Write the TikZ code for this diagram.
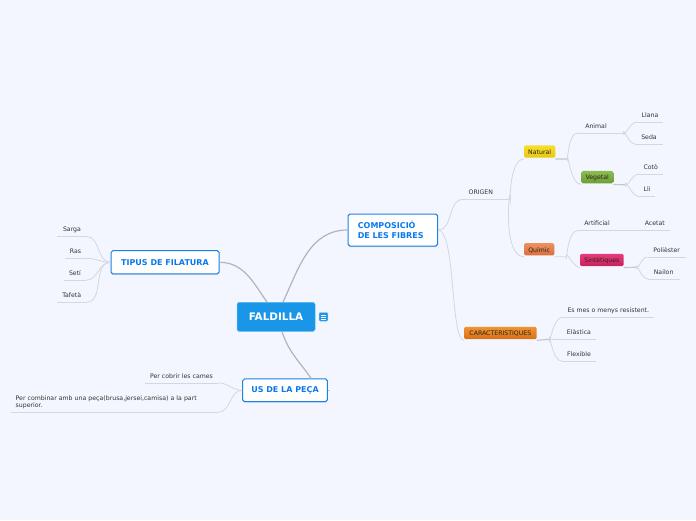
\documentclass[tikz,border=0pt]{standalone}
\usepackage{fontspec}
\usepackage{xcolor}
\setmainfont{DejaVu Sans}
\usetikzlibrary{shadows}
\definecolor{FLBack}{HTML}{F3F6FE}
\definecolor{FLBlue}{HTML}{1A96E8}
\definecolor{FLEdge}{HTML}{1C80E8}
\definecolor{FLTitle}{HTML}{0A78EE}
\definecolor{FLMain}{HTML}{B4B4B8}
\definecolor{FLTwig}{HTML}{D3D7E0}
\definecolor{FLStem}{HTML}{C4C6CC}
\definecolor{FLText}{HTML}{333333}
\definecolor{FLPill}{HTML}{2A2418}
\definecolor{FLGoldA}{HTML}{F8DE30}
\definecolor{FLGoldB}{HTML}{E8C810}
\definecolor{FLRustA}{HTML}{EE9060}
\definecolor{FLRustB}{HTML}{D86E3C}
\definecolor{FLLeafA}{HTML}{8CBC50}
\definecolor{FLLeafB}{HTML}{6C9E38}
\definecolor{FLRoseA}{HTML}{E63C7C}
\definecolor{FLRoseB}{HTML}{C8205C}
\definecolor{FLAmberA}{HTML}{F09430}
\definecolor{FLAmberB}{HTML}{D87018}
\tikzset{
  topic/.style={draw=FLEdge,line width=1pt,fill=white,rounded corners=1.8pt,inner sep=0pt,
    text=FLTitle,font=\fontsize{8}{10}\selectfont\bfseries,drop shadow={shadow xshift=0pt,shadow yshift=-1pt,opacity=.3}},
  pill/.style={rounded corners=1.5pt,inner sep=0pt,outer ysep=1.3pt,outer xsep=0pt,minimum height=12.3pt,
    text height=5.6pt,text depth=0pt,text=FLPill,font=\fontsize{6.2}{7}\selectfont},
  leaf/.style={inner sep=0pt,minimum height=14.4pt,text height=5.6pt,text depth=0pt,text=FLText,font=\fontsize{6.2}{7}\selectfont},
  note/.style={inner sep=0pt,text=FLText,font=\fontsize{6.2}{7}\selectfont},
  branch/.style={draw=FLMain,line width=1.2pt},
  twig/.style={draw=FLTwig,line width=.8pt},
  stem/.style={draw=FLStem,line width=1.2pt}
}
\begin{document}
\begin{tikzpicture}[x=1pt,y=-1pt]
\path[use as bounding box,fill=FLBack] (0,0) rectangle (696,520);
% central topic and main branches
\node[fill=FLBlue,draw=FLBlue!70!white,line width=.5pt,rounded corners=1.8pt,minimum width=78pt,minimum height=29pt,inner sep=0pt,text=white,font=\fontsize{10.4}{12}\selectfont\bfseries] (faldilla) at (276,316.8) {FALDILLA};
\node[fill=FLBlue,draw=FLBlue!60!white,line width=.4pt,rounded corners=1pt,minimum width=8.6pt,minimum height=8.6pt,inner sep=0pt] (icon) at (323.5,316.8) {};
\foreach \dy in {-2,0,2} \draw[white,line width=.6pt] ([xshift=-2.6pt,yshift=\dy pt]icon.center) -- ([xshift=2.6pt,yshift=\dy pt]icon.center);
\node[topic,minimum width=89.7pt,minimum height=32pt,align=left,text width=70pt,inner xsep=9.85pt] (fibres) at (392.85,230) {COMPOSICIÓ\\DE LES FIBRES};
\node[topic,minimum width=108pt,minimum height=23.3pt] (tipus) at (165,262.3) {TIPUS DE FILATURA};
\node[topic,minimum width=84.6pt,minimum height=22.7pt] (us) at (285,390.3) {US DE LA PEÇA};
\draw[branch] ([xshift=7pt]faldilla.north) to[out=65,in=180] (fibres.west);
\draw[branch] ([xshift=-9pt]faldilla.north) to[out=125,in=0] (tipus.east);
\draw[branch] ([xshift=6pt]faldilla.south) to[out=-72,in=125] ([xshift=-16.6pt]us.north east);
\coordinate (usEnd) at (330,390.3);
\draw[stem] (us.east) -- (usEnd);
% right side, upper part
\node[leaf,minimum width=47.3pt] (origen) at (486.65,192.1) {ORIGEN\hspace{11.6pt}\mbox{}};
\coordinate (origenJ) at (510.3,199.3);
\draw[twig] (fibres.east) to[out=0,in=180] (origen.south west);
\draw[stem] (498,199.3) -- (origenJ);
\node[pill,top color=FLGoldA,bottom color=FLGoldB,minimum width=31.3pt] (natural) at (539.65,151.5) {Natural};
\node[pill,top color=FLRustA,bottom color=FLRustB,minimum width=30.3pt] (quimic) at (539.15,249.3) {Químic};
\coordinate (naturalJ) at (567.3,159);
\coordinate (quimicJ) at (566.3,256.7);
\draw[twig] (origenJ) to[out=-90,in=180] (natural.south west);
\draw[twig] (origenJ) to[out=90,in=180] (quimic.south west);
\draw[stem] (natural.south east) -- (naturalJ);
\draw[twig] (quimic.south east) -- (quimicJ);
\node[leaf,minimum width=45pt] (animal) at (600.5,125.5) {Animal\hspace{9pt}\mbox{}};
\node[pill,top color=FLLeafA,bottom color=FLLeafB,minimum width=32pt] (vegetal) at (597.3,177.1) {Vegetal};
\coordinate (vegetalJ) at (625.3,184.7);
\draw[twig] (naturalJ) to[out=-90,in=180] (animal.south west);
\draw[twig] (naturalJ) to[out=90,in=180] (vegetal.south west);
\draw[stem] (vegetal.south east) -- (vegetalJ);
\node[leaf,minimum width=26pt] (llana) at (650,114.5) {Llana};
\node[leaf,minimum width=28pt] (seda) at (649,136.5) {Seda};
\node[leaf,minimum width=24.6pt] (coto) at (650.7,166.8) {Cotò};
\node[leaf,minimum width=16pt] (lli) at (647,189.1) {Lli};
\draw[twig] (animal.south east) to[out=-90,in=180] (llana.south west);
\draw[twig] (animal.south east) to[out=90,in=180] (seda.south west);
\draw[twig] (vegetalJ) to[out=-90,in=180] (coto.south west);
\draw[twig] (vegetalJ) to[out=90,in=180] (lli.south west);
\node[leaf,minimum width=62pt] (artificial) at (609,223.1) {Artificial\hspace{24pt}\mbox{}};
\node[leaf,minimum width=29.7pt] (acetat) at (654.85,223.1) {Acetat};
\node[pill,top color=FLRoseA,bottom color=FLRoseB,minimum width=43.7pt] (sintetiques) at (601.85,260) {Sintètiques};
\coordinate (sintetiquesJ) at (636,267.3);
\draw[twig] (quimicJ) to[out=-90,in=180] (artificial.south west);
\draw[twig] (quimicJ) to[out=90,in=180] (sintetiques.south west);
\draw[twig] (artificial.south east) -- (acetat.south west);
\draw[stem] (sintetiques.south east) -- (sintetiquesJ);
\node[leaf,minimum width=38pt] (poliester) at (666.7,249.5) {Polièster};
\node[leaf,minimum width=31.3pt] (nailon) at (663.65,271.5) {Nailon};
\draw[twig] (sintetiquesJ) to[out=-90,in=180] (poliester.south west);
\draw[twig] (sintetiquesJ) to[out=90,in=180] (nailon.south west);
% right side, lower part
\node[pill,top color=FLAmberA,bottom color=FLAmberB,minimum width=72.7pt] (caract) at (500.35,332.9) {CARACTERISTIQUES};
\coordinate (caractJ) at (549.3,339.3);
\draw[twig] (fibres.east) .. controls (456,232) and (450,339) .. (caract.south west);
\draw[stem] (caract.south east) -- (caractJ);
\node[leaf,minimum width=91.4pt] (resistent) at (608.3,309.8) {Es mes o menys resistent.};
\node[leaf,minimum width=34pt] (elastica) at (579,332.1) {Elàstica};
\node[leaf,minimum width=34pt] (flexible) at (579,353.8) {Flexible};
\draw[twig] (caractJ) to[out=-90,in=180] (resistent.south west);
\draw[twig] (caractJ) -- (elastica.south west);
\draw[twig] (caractJ) to[out=90,in=180] (flexible.south west);
% left side
\node[leaf,minimum width=29pt] (sarga) at (72,229.1) {Sarga};
\node[leaf,minimum width=21pt] (ras) at (75.5,250.8) {Ras};
\node[leaf,minimum width=22pt] (seti) at (75,272.8) {Setí};
\node[leaf,minimum width=29pt] (tafeta) at (71.8,294.8) {Tafetà};
\foreach \n in {sarga,ras,seti,tafeta} \draw[twig] (tipus.west) to[out=180,in=0] (\n.south east);
\node[leaf,minimum width=73pt] (cobrir) at (181.5,375.5) {Per cobrir les cames};
\node[note,minimum width=207pt,minimum height=20.2pt,text width=197.6pt,inner xsep=4.7pt,align=left] (combinar) at (114.5,401.9) {Per combinar amb una peça(brusa,jersei,camisa) a la part\\superior.};
\draw[twig] (us.west) to[out=180,in=0] (cobrir.south east);
\draw[twig] (us.west) to[out=180,in=0] (combinar.south east);
% underlines of the plain leaves
\foreach \n in {origen,animal,llana,seda,coto,lli,artificial,acetat,poliester,nailon,resistent,elastica,flexible,sarga,ras,seti,tafeta,cobrir,combinar}
  \draw[twig] (\n.south west) -- (\n.south east);
\end{tikzpicture}
\end{document}
